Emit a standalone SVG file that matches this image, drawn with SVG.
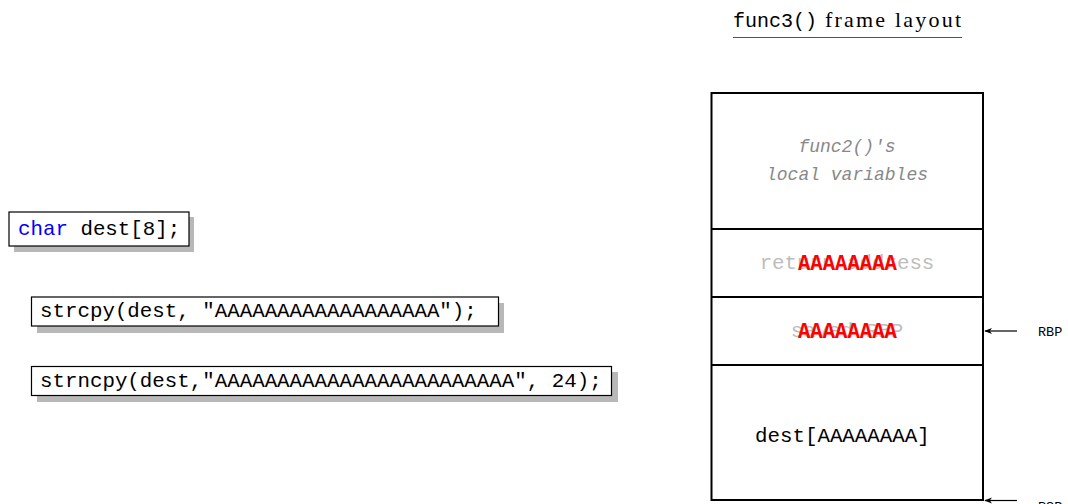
<svg xmlns="http://www.w3.org/2000/svg" width="1068" height="504" viewBox="0 0 1068 504">
  <style>
    .mono { font-family: "Liberation Mono", "DejaVu Sans Mono", monospace; }
    .code { font-family: "Liberation Mono", "DejaVu Sans Mono", monospace; font-size: 20.8px; fill: #000; }
    .box { fill: #fff; stroke: #000; stroke-width: 1.2; }
    .shadow { fill: #b8b8b8; }
    .frame { fill: #fff; stroke: #000; stroke-width: 2; }
    .div { stroke: #000; stroke-width: 2; }
    .red { font-family: "Liberation Mono", monospace; font-size: 22px; font-weight: bold; fill: #ff0000; }
    .ghost { font-family: "Liberation Mono", monospace; font-size: 20.8px; fill: #bdbdbd; }
    .ptr { font-family: "Liberation Mono", monospace; font-size: 13.5px; fill: #000; }
    .arrow { stroke: #000; stroke-width: 1.2; fill: none; }
  </style>
  <defs>
    <marker id="ah" viewBox="0 0 10 10" refX="9" refY="5" markerWidth="8" markerHeight="8" orient="auto" markerUnits="userSpaceOnUse">
      <path d="M0,1 L10,5 L0,9 L3,5 Z" fill="#000"/>
    </marker>
  </defs>
  <rect width="1068" height="504" fill="#fff"/>

  <g id="title">
    <text x="733" y="27"><tspan class="mono" font-size="20">func3()</tspan><tspan font-family="Liberation Serif, serif" font-size="22" x="825" textLength="136" lengthAdjust="spacing">frame layout</tspan></text>
    <line x1="733" y1="37.5" x2="962" y2="37.5" stroke="#555" stroke-width="1"/>
  </g>

  <g id="code-char">
    <rect class="shadow" x="14" y="217" width="180" height="35"/>
    <rect class="box" x="9" y="212" width="180" height="34"/>
    <text class="code" x="18" y="235"><tspan fill="#0000ff">char</tspan> dest[8];</text>
  </g>

  <g id="code-strcpy">
    <rect class="shadow" x="37" y="303" width="467" height="30"/>
    <rect class="box" x="31.5" y="297" width="467" height="29"/>
    <text class="code" x="40" y="317">strcpy(dest, "AAAAAAAAAAAAAAAAAA");</text>
  </g>

  <g id="code-strncpy">
    <rect class="shadow" x="37" y="372" width="581" height="30"/>
    <rect class="box" x="31.5" y="366.5" width="580" height="29"/>
    <text class="code" x="40" y="386.5">strncpy(dest,"AAAAAAAAAAAAAAAAAAAAAAAA", 24);</text>
  </g>

  <g id="frame">
    <rect class="frame" x="711.5" y="93" width="271.5" height="407"/>
    <line class="div" x1="711.5" y1="229" x2="983" y2="229"/>
    <line class="div" x1="711.5" y1="297" x2="983" y2="297"/>
    <line class="div" x1="711.5" y1="365" x2="983" y2="365"/>
  </g>

  <g id="slot-locals">
    <text class="mono" font-size="18" font-style="italic" fill="#888" text-anchor="middle" x="847" y="152">func2()'s</text>
    <text class="mono" font-size="18" font-style="italic" fill="#888" text-anchor="middle" x="847" y="180">local variables</text>
  </g>

  <g id="slot-ret">
    <text class="ghost" text-anchor="middle" x="847" y="269">return address</text>
    <text class="red" x="798" y="270" textLength="99" lengthAdjust="spacingAndGlyphs">AAAAAAAA</text>
  </g>

  <g id="slot-rbp">
    <text class="ghost" text-anchor="middle" x="847" y="337">saved RBP</text>
    <text class="red" x="798" y="338" textLength="99" lengthAdjust="spacingAndGlyphs">AAAAAAAA</text>
  </g>

  <g id="slot-dest">
    <text class="code" x="755" y="442" font-size="21">dest[AAAAAAAA]</text>
  </g>

  <g id="connectors">
    <line class="arrow" x1="1017" y1="331" x2="985" y2="331" marker-end="url(#ah)"/>
    <line class="arrow" x1="1017" y1="500.5" x2="985" y2="500.5" marker-end="url(#ah)"/>
  </g>

  <g id="label-rbp">
    <text class="ptr" x="1038" y="336">RBP</text>
  </g>
  <g id="label-rsp">
    <text class="ptr" x="1038" y="511">RSP</text>
  </g>
</svg>
